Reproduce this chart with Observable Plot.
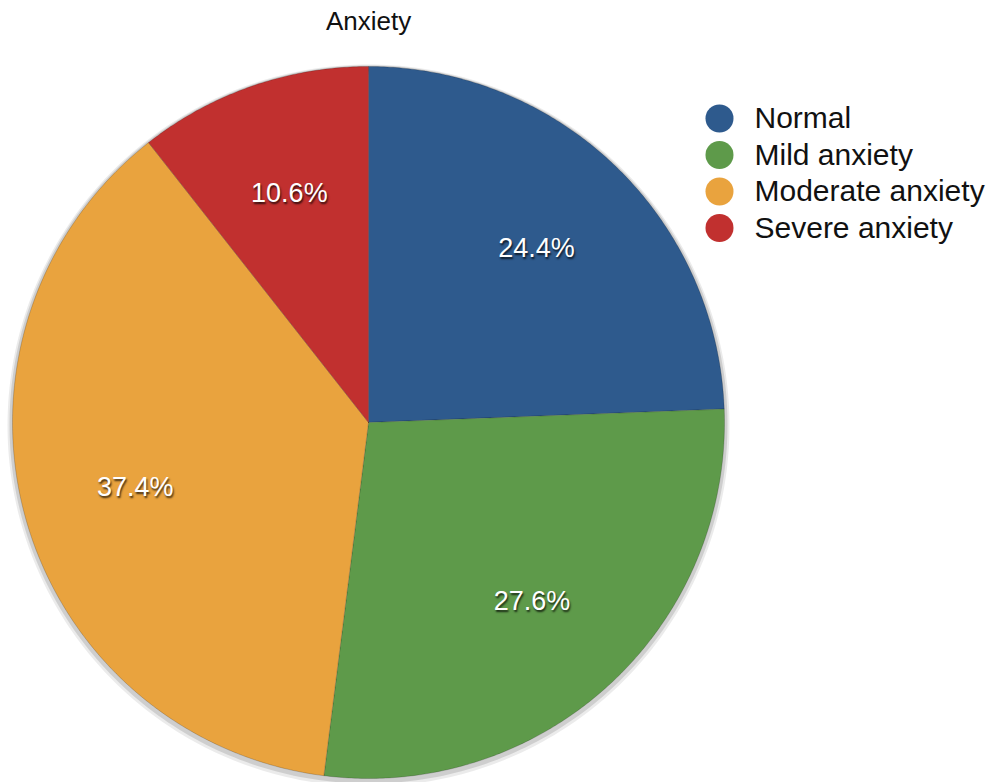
<!DOCTYPE html>
<html><head><meta charset="utf-8">
<script src="https://cdn.jsdelivr.net/npm/d3@7"></script>
<script src="https://cdn.jsdelivr.net/npm/@observablehq/plot@0.6"></script>
<style>body{margin:0;background:#fff}</style>
</head><body><div id="chart"></div>
<script>
const title = "Anxiety";
const categories = ["Normal", "Mild anxiety", "Moderate anxiety", "Severe anxiety"];
const values = [24.4, 27.6, 37.4, 10.6];
const labels = ["24.4%", "27.6%", "37.4%", "10.6%"];
const colors = ["#2E5A8D", "#5E9A4A", "#E9A33E", "#C1302F"];

// wedge polygons computed from values (angle from 12 o'clock, clockwise)
const total = d3.sum(values);
const wedgePts = [];
const labelPts = [];
let acc = 0;
categories.forEach((c, i) => {
  const a0 = acc / total * 2 * Math.PI;
  acc += values[i];
  const a1 = acc / total * 2 * Math.PI;
  wedgePts.push({c, x: 0, y: 0});
  const n = Math.max(2, Math.ceil((a1 - a0) / (Math.PI / 360)));
  for (let k = 0; k <= n; k++) {
    const a = a0 + (a1 - a0) * k / n;
    wedgePts.push({c, x: Math.sin(a), y: Math.cos(a)});
  }
  wedgePts.push({c, x: 0, y: 0});
  const am = (a0 + a1) / 2;
  labelPts.push({c, label: labels[i], x: 0.68 * Math.sin(am), y: 0.68 * Math.cos(am)});
});
const ring = d3.range(0, 361, 1).map(d => ({x: Math.sin(d * Math.PI / 180), y: Math.cos(d * Math.PI / 180)}));

// layout (pixels -> data units of the pie scales)
const X0 = 12, X1 = 724, Y0 = 778, Y1 = 66;
const px = p => (p - X0) / (X1 - X0) * 2 - 1;
const py = p => (Y0 - p) / (Y0 - Y1) * 2 - 1;
const legend = categories.map((c, i) => ({c, x: px(719), tx: px(754), y: py(118 + i * 36.5)}));

const font = "'Liberation Sans', Arial, Helvetica, sans-serif";
const chart = Plot.plot({
  width: 996, height: 782,
  margin: 0,
  style: {fontFamily: font, background: "#fff", overflow: "visible"},
  x: {domain: [-1, 1], range: [X0, X1], axis: null},
  y: {domain: [-1, 1], range: [Y0, Y1], axis: null},
  color: {domain: categories, range: colors},
  marks: [
    Plot.line(ring, {x: "x", y: "y", stroke: "#000", strokeOpacity: 0.12, strokeWidth: 6, dy: 2}),
    Plot.line(ring, {x: "x", y: "y", stroke: "#000", strokeOpacity: 0.08, strokeWidth: 10, dy: 3}),
    Plot.line(wedgePts, {x: "x", y: "y", z: "c", fill: "c", stroke: "#000", strokeOpacity: 0.18, strokeWidth: 1, curve: "linear"}),
    Plot.text(labelPts, {x: "x", y: "y", text: "label", fill: "#fff", fontSize: 27}),
    Plot.dot(legend, {x: "x", y: "y", r: 14, fill: "c"}),
    Plot.text(legend, {x: "tx", y: "y", text: "c", textAnchor: "start", fontSize: 30, fill: "#111"}),
    Plot.text([title], {x: px(368), y: py(21), text: d => d, fontSize: 26, fill: "#111"})
  ]
});
d3.select(chart).selectAll("text").filter(function() { return labels.includes(this.textContent); })
  .style("text-shadow", "1px 2px 2px rgba(0,0,0,0.75)");
document.getElementById("chart").appendChild(chart);
</script>
</body></html>
